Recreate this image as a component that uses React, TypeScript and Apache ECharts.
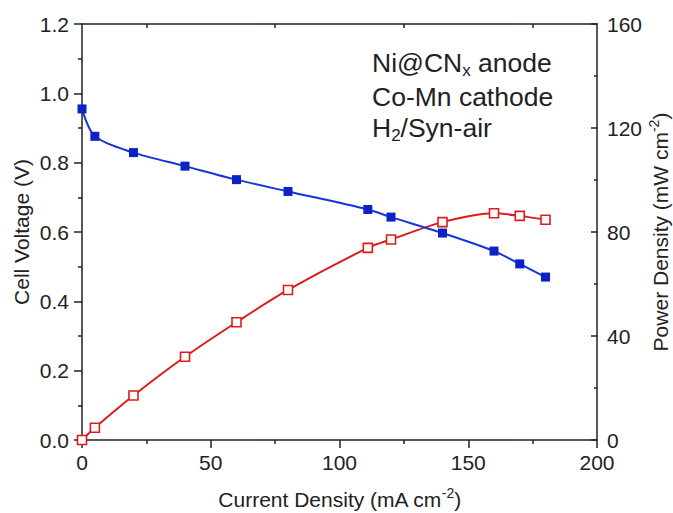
import React, { useEffect, useRef } from "react";
import * as echarts from "echarts";

const currentDensity = [0, 5, 20, 40, 60, 80, 111, 120, 140, 160, 170, 180];
const cellVoltage = [0.955, 0.876, 0.829, 0.79, 0.751, 0.717, 0.665, 0.643, 0.597, 0.545, 0.508, 0.47];
const powerDensity = [0, 4.7, 17.1, 32.0, 45.3, 57.7, 73.9, 77.1, 83.8, 87.2, 86.2, 84.7];

const xTicks = { min: 0, max: 200, interval: 50 };
const vTicks = { min: 0, max: 1.2, interval: 0.2 };
const pTicks = { min: 0, max: 160, interval: 40 };

const annotationLines = ["Ni@CN{sub|x} anode", "Co-Mn cathode", "H{sub|2}/Syn-air"];

const FONT = "'Liberation Sans', Arial, sans-serif";
const AXIS = "#222";
const BLUE = "#0b22c4";
const RED = "#dc1c1c";

export default function App() {
  const ref = useRef<HTMLDivElement>(null);
  useEffect(() => {
    if (!ref.current) return;
    const chart = echarts.init(ref.current, null, { renderer: "svg" });
    const axisLine = { show: true, onZero: false, lineStyle: { color: AXIS, width: 1.5 } };
    const labelStyle = { color: "#222", fontSize: 21, fontFamily: FONT };
    const nameStyle = {
      color: "#222",
      fontSize: 21,
      lineHeight: 26,
      fontFamily: FONT,
      rich: {
        sup: { fontSize: 14, lineHeight: 14, fontFamily: FONT, color: "#222", verticalAlign: "top" },
      },
    };
    const annotationY = [62.5, 97.2, 127.5];
    chart.setOption({
      animation: false,
      backgroundColor: "#fff",
      grid: { left: 82, right: 76, top: 24, bottom: 73, containLabel: false, outerBoundsMode: "none" },
      xAxis: [
        {
          type: "value",
          position: "bottom",
          ...xTicks,
          axisLine,
          axisTick: { show: true, inside: false, length: 8, lineStyle: { color: AXIS, width: 1.5 } },
          minorTick: { show: true, splitNumber: 2, length: 4, lineStyle: { color: AXIS, width: 1.5 } },
          splitLine: { show: false },
          axisLabel: { ...labelStyle, margin: 12 },
          name: "Current Density (mA cm{sup|-2})",
          nameLocation: "middle",
          nameGap: 46,
          nameMoveOverlap: false,
          nameTextStyle: nameStyle,
        },
        {
          type: "value",
          position: "top",
          ...xTicks,
          axisLine,
          axisTick: { show: false, inside: true },
          minorTick: { show: true, splitNumber: 2, length: 4, lineStyle: { color: AXIS, width: 1.5 } },
          splitLine: { show: false },
          axisLabel: { show: false },
        },
      ],
      yAxis: [
        {
          type: "value",
          position: "left",
          ...vTicks,
          axisLine,
          axisTick: { show: true, inside: false, length: 8, lineStyle: { color: AXIS, width: 1.5 } },
          minorTick: { show: true, splitNumber: 2, length: 4, lineStyle: { color: AXIS, width: 1.5 } },
          splitLine: { show: false },
          axisLabel: { ...labelStyle, margin: 13, formatter: (v: number) => v.toFixed(1) },
          name: "Cell Voltage (V)",
          nameLocation: "middle",
          nameGap: 48,
          nameMoveOverlap: false,
          nameTextStyle: nameStyle,
        },
        {
          type: "value",
          position: "right",
          ...pTicks,
          axisLine,
          axisTick: { show: true, inside: true, length: 6, lineStyle: { color: AXIS, width: 1.5 } },
          minorTick: { show: true, splitNumber: 2, length: 3, lineStyle: { color: AXIS, width: 1.5 } },
          splitLine: { show: false },
          axisLabel: { ...labelStyle, margin: 10 },
          name: "Power Density (mW cm{sup|-2})",
          nameLocation: "middle",
          nameGap: 50,
          nameRotate: 90,
          nameMoveOverlap: false,
          nameTextStyle: nameStyle,
        },
      ],
      series: [
        {
          type: "line",
          name: "Voltage",
          xAxisIndex: 0,
          yAxisIndex: 0,
          data: currentDensity.map((c, i) => [c, cellVoltage[i]]),
          smooth: 0.3,
          symbol: "rect",
          symbolSize: 9,
          itemStyle: { color: BLUE },
          lineStyle: { color: "#1535d6", width: 2 },
          z: 3,
        },
        {
          type: "line",
          name: "Power",
          xAxisIndex: 0,
          yAxisIndex: 1,
          data: currentDensity.map((c, i) => [c, powerDensity[i]]),
          smooth: 0.3,
          symbol: "rect",
          symbolSize: 9,
          itemStyle: { color: "#fff", borderColor: RED, borderWidth: 1.6 },
          lineStyle: { color: RED, width: 2 },
          z: 2,
        },
      ],
      graphic: annotationLines.map((t, i) => ({
        type: "text",
        x: 372,
        y: annotationY[i],
        style: {
          text: t,
          fontSize: 26.5,
          lineHeight: 32,
          fontFamily: FONT,
          fill: "#222",
          verticalAlign: "middle",
          align: "left",
          rich: {
            sub: { fontSize: 17, lineHeight: 17, fontFamily: FONT, fill: "#222", verticalAlign: "bottom" },
          },
        },
      })),
    });
    return () => chart.dispose();
  }, []);
  return (
    <div
      ref={ref}
      style={{ position: "fixed", left: 0, top: 0, width: 673, height: 513, background: "#fff" }}
    />
  );
}
